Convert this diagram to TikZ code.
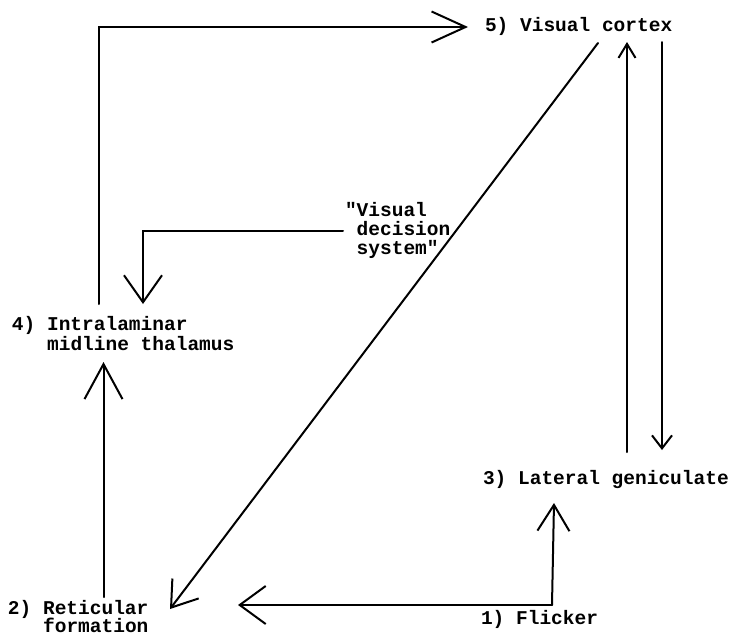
\documentclass[tikz,border=0pt]{standalone}
\usepackage{fontspec}
\setmonofont{Liberation Mono}
\usetikzlibrary{arrows.meta,calc}
\tikzset{
  lbl/.style={anchor=base west, inner sep=0pt, outer sep=0pt, font=\ttfamily\bfseries\fontsize{19.5}{20}\selectfont},
  conn/.style={line width=2pt, line cap=round, line join=miter},
}
\newcommand{\twolines}[3]{\vtop{\baselineskip=#1\lineskiplimit=-20pt\hbox{#2}\hbox{#3}}}
\newcommand{\threelines}[4]{\vtop{\baselineskip=#1\lineskiplimit=-20pt\hbox{#2}\hbox{#3}\hbox{#4}}}
\begin{document}
\begin{tikzpicture}[x=1pt,y=-1pt]
\useasboundingbox[fill=white] (0,0) rectangle (729,638);
% nodes
\node[lbl] (n5) at (485,31.5) {5) Visual cortex};
\node[lbl] (n4) at (12,330) {\twolines{20pt}{4) Intralaminar}{\phantom{4) }midline thalamus}};
\node[lbl] (n3) at (483,484) {3) Lateral geniculate};
\node[lbl] (n2) at (8,614) {\twolines{18.5pt}{2) Reticular}{\phantom{2) }formation}};
\node[lbl] (n1) at (481,624) {1) Flicker};
\node[lbl] (nv) at (345,216) {\threelines{19pt}{"Visual}{\phantom{"}decision}{\phantom{"}system"}};
% connectors
\draw[conn, -{Straight Barb[length=34pt,width=31pt]}]
  ([shift={(87,-26)}]n4.base west) |- ([shift={(-17,-4.5)}]n5.base west);
\draw[conn, -{Straight Barb[length=27pt,width=38pt]}]
  ([shift={(-2,15)}]nv.base west) -| ([shift={(131,-26)}]n4.base west);
\draw[conn, -{Straight Barb[length=35pt,width=38pt]}]
  ([shift={(95.5,-17)}]n2.base west) -- ([shift={(91.5,32)}]n4.base west);
\draw[conn, -{Straight Barb[length=24pt,width=33pt]}]
  ([shift={(113,11.5)}]n5.base west) -- ([shift={(162,-5)}]n2.base west);
\draw[conn, -{Straight Barb[length=26pt,width=38pt]}]
  ([shift={(71,-19)}]n1.base west) -- ([shift={(230,-9)}]n2.base west);
\draw[conn, -{Straight Barb[length=26pt,width=32pt]}]
  ([shift={(71,-19)}]n1.base west) -- ([shift={(71,19)}]n3.base west);
\draw[conn, -{Straight Barb[length=14pt,width=17pt]}]
  ([shift={(144,-32)}]n3.base west) -- ([shift={(142,10.5)}]n5.base west);
\draw[conn, -{Straight Barb[length=13pt,width=20pt]}]
  ([shift={(177,10.5)}]n5.base west) -- ([shift={(179,-34)}]n3.base west);
\end{tikzpicture}
\end{document}
